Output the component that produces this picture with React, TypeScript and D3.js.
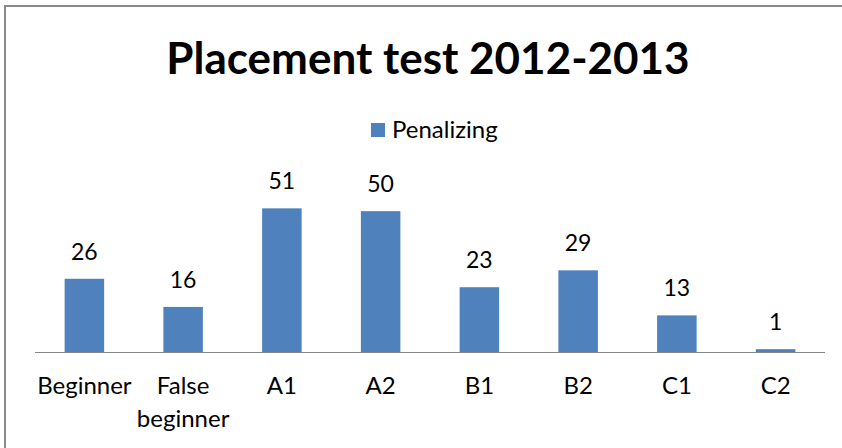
import React from "react";
import * as d3 from "d3";

const categories = ["Beginner", "False beginner", "A1", "A2", "B1", "B2", "C1", "C2"];
const penalizing = [26, 16, 51, 50, 23, 29, 13, 1];
const seriesName = "Penalizing";
const title = "Placement test 2012-2013";

const width = 842;
const height = 448;
const font = "Lato, 'Open Sans', sans-serif";

const App = () => {
  const x = d3
    .scaleBand<string>()
    .domain(categories)
    .range([35, 825])
    .paddingInner(0.6)
    .paddingOuter(0.3);

  const y = d3.scaleLinear().domain([0, 60]).range([352, 183]);

  return (
    <svg
      width={width}
      height={height}
      style={{ position: "absolute", left: 0, top: 0, background: "#fff" }}
    >
      <rect x={5} y={6} width={900} height={500} fill="#fff" stroke="#8a8a8a" strokeWidth={2} />

      <text
        x={428}
        y={74}
        textAnchor="middle"
        fontFamily={font}
        fontWeight="bold"
        fontSize={44}
        fill="#000"
      >
        {title}
      </text>

      {/* legend */}
      <rect x={371} y={123} width={14} height={14} fill="#4F81BD" />
      <text x={392} y={138} fontFamily={font} fontSize={24} fill="#000">
        {seriesName}
      </text>

      {/* bars */}
      {categories.map((c, i) => (
        <g key={c}>
          <rect
            x={x(c)}
            y={y(penalizing[i])}
            width={x.bandwidth()}
            height={y(0) - y(penalizing[i])}
            fill="#4F81BD"
          />
          <text
            x={(x(c) as number) + x.bandwidth() / 2}
            y={y(penalizing[i]) - 19}
            textAnchor="middle"
            fontFamily={font}
            fontSize={23}
            fill="#000"
          >
            {penalizing[i]}
          </text>
        </g>
      ))}

      <line x1={35} x2={825} y1={352.5} y2={352.5} stroke="#868686" strokeWidth={1} />

      {/* category labels */}
      {categories.map((c) => {
        const cx = (x(c) as number) + x.bandwidth() / 2;
        const words = c.split(" ");
        return (
          <text key={c} x={cx} y={394} textAnchor="middle" fontFamily={font} fontSize={24} fill="#000">
            {words.map((w, j) => (
              <tspan key={j} x={cx} dy={j === 0 ? 0 : 33}>
                {w}
              </tspan>
            ))}
          </text>
        );
      })}
    </svg>
  );
};

export default App;
